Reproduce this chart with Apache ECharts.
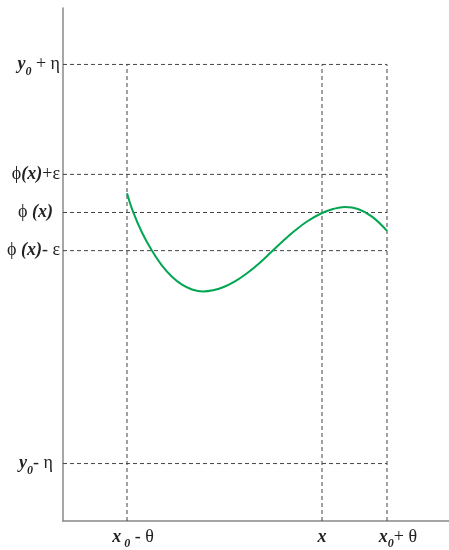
<!DOCTYPE html>
<html>
<head>
<meta charset="utf-8">
<script src="https://cdn.jsdelivr.net/npm/echarts@6/dist/echarts.min.js"></script>
<style>html,body{margin:0;padding:0;background:#fff}#c{width:449px;height:550px}</style>
</head>
<body>
<div id="c"></div>
<script>
// tick positions and labels
const xTickVals = [64, 259, 324];
const xTickLabels = ['{sa|}{i|x}{sub| 0}{r| - θ}', '{i|x}', '{sb|}{i|x}{sub|0}{r|+ θ}'];
const yTickVals = [461, 350, 311.5, 273, 58];
const yTickLabels = ['{i|y}{sub|0}{r| + η}', '{r|ϕ}{i|(x)}{r|+ε}', '{r|ϕ }{i|(x)}{sp|}', '{r|ϕ }{i|(x)}{r|- ε}', '{i|y}{sub|0}{r|- η}{sp|}'];
// dashed guide lines
const hLineYs = [461, 350, 311.5, 273, 58];
const hLineEnd = 324;
const vLineXs = [64, 259, 324];
const vLineTop = 461;
// curve samples
const curveX = [64, 70, 79, 89, 99, 109, 119, 129, 140, 150, 160, 172, 184, 196, 208, 220, 232, 244, 258, 270, 282, 295, 309, 324];
const curveY = [331, 312.4, 291.3, 272.8, 257.8, 246.6, 238.6, 233.8, 231.8, 233, 236, 242, 250.2, 260.1, 271.3, 282.7, 293.3, 302.4, 310.5, 315, 317, 315, 307.3, 293];

const font = 'Liberation Serif, Times New Roman, serif';
const rich = {
  i: {fontFamily: font, fontStyle: 'italic', fontWeight: 'bold', fontSize: 18, lineHeight: 26, color: '#222'},
  r: {fontFamily: font, fontSize: 18, lineHeight: 26, color: '#222'},
  sub: {fontFamily: font, fontStyle: 'italic', fontWeight: 'bold', fontSize: 12, lineHeight: 13, verticalAlign: 'bottom', color: '#222'},
  sp: {width: 7},
  sa: {width: 12},
  sb: {width: 22}
};

const dashStyle = {color: '#444', width: 1, type: [4, 3]};
const series = [];
hLineYs.forEach(y => series.push({type: 'line', data: [[0, y], [hLineEnd, y]], symbol: 'none', lineStyle: dashStyle, silent: true}));
vLineXs.forEach(x => series.push({type: 'line', data: [[x, 0], [x, vLineTop]], symbol: 'none', lineStyle: dashStyle, silent: true}));
series.push({
  type: 'line', smooth: 0.4, symbol: 'none',
  data: curveX.map((x, i) => [x, curveY[i]]),
  lineStyle: {color: '#00a651', width: 2}, z: 5
});

const chart = echarts.init(document.getElementById('c'), null, {renderer: 'canvas'});
chart.setOption({
  animation: false,
  grid: {left: 63, right: 0, top: 8, bottom: 24},
  xAxis: {
    type: 'value', min: 0, max: 386,
    splitLine: {show: false},
    axisLine: {show: true, lineStyle: {color: '#888', width: 1.5}},
    axisTick: {show: false},
    axisLabel: {
      customValues: xTickVals, margin: 3,
      formatter: v => xTickLabels[xTickVals.indexOf(v)] || '',
      rich: rich
    }
  },
  yAxis: {
    type: 'value', min: 0, max: 518,
    splitLine: {show: false},
    axisLine: {show: true, lineStyle: {color: '#888', width: 1.5}},
    axisTick: {show: false},
    axisLabel: {
      customValues: yTickVals, margin: 3,
      formatter: v => yTickLabels[yTickVals.indexOf(v)] || '',
      rich: rich
    }
  },
  series: series
});
</script>
</body>
</html>
